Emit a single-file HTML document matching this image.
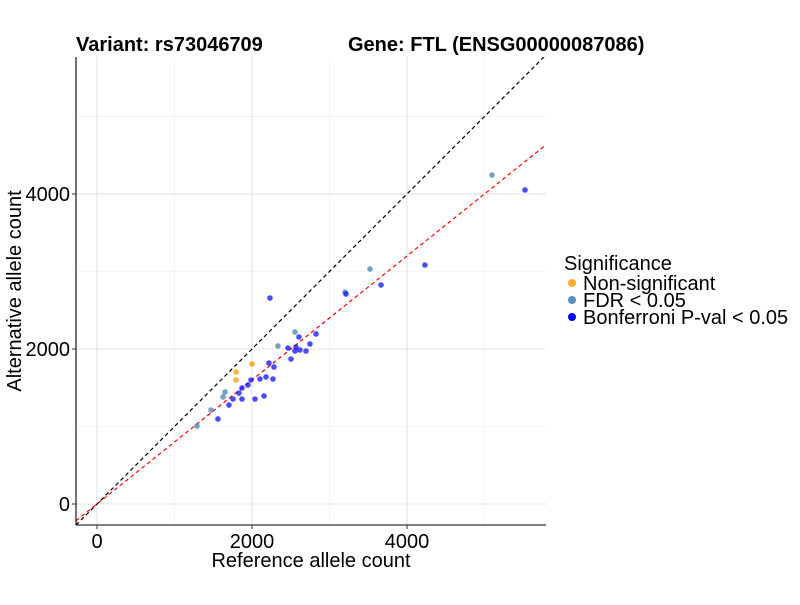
<!DOCTYPE html>
<html><head><meta charset="utf-8"><style>
body{margin:0;background:#fff}
svg text{font-family:"Liberation Sans",sans-serif}
</style></head><body>
<svg id="c" width="800" height="600">
<g id="grid"></g>
<g id="lines"></g>
<g id="pts"></g>
<g id="axes"></g>
<text x="76" y="51" font-size="20" font-weight="bold">Variant: rs73046709</text>
<text x="348" y="51" font-size="20" font-weight="bold">Gene: FTL (ENSG00000087086)</text>
<text x="311" y="567" font-size="20" text-anchor="middle">Reference allele count</text>
<text transform="translate(21,291) rotate(-90)" font-size="20" text-anchor="middle">Alternative allele count</text>
<g>
<text x="564" y="270" font-size="20">Significance</text>
<circle cx="572" cy="283" r="4" fill="#FF9900" opacity="0.8"/>
<text x="583" y="290" font-size="20">Non-significant</text>
<circle cx="572" cy="300" r="4" fill="#4682B4" opacity="0.9"/>
<text x="583" y="307" font-size="20">FDR &lt; 0.05</text>
<circle cx="572" cy="317" r="4" fill="#0000FF"/>
<text x="583" y="324" font-size="20">Bonferroni P-val &lt; 0.05</text>
</g>
</svg>
<script>
const refCounts=[2232,2555,2606,2826,2335,2465,2568,2555,2619,2697,2748,2503,2219,2284,2000,1794,1794,1987,2103,2181,2271,1948,1871,1652,1626,1832,1755,1871,2039,2155,1703,1471,1561,1290,3523,3665,3200,3213,4232,5097,5523];
const altCounts=[2658,2219,2155,2194,2039,2013,2026,1974,1987,1974,2065,1871,1819,1768,1806,1703,1600,1600,1613,1639,1613,1535,1497,1445,1381,1432,1355,1355,1355,1394,1277,1213,1097,1006,3032,2826,2735,2710,3084,4245,4052];
const groups=["b","s","b","b","s","b","b","b","b","b","b","b","b","b","o","o","o","b","b","b","b","b","b","s","s","b","b","b","b","b","b","s","b","s","s","b","s","b","b","s","b"];
const ticks=[0,2000,4000];
const minorTicks=[1000,3000,5000];
const fitSlope=0.8;
const X0=76,X1=546,Y0=57,Y1=525,xmin=-271,xmax=5794,ymin=-271,ymax=5768;
const sx=v=>X0+(v-xmin)/(xmax-xmin)*(X1-X0);
const sy=v=>Y1-(v-ymin)/(ymax-ymin)*(Y1-Y0);
const NS="http://www.w3.org/2000/svg";
function mk(p,t,a){const e=document.createElementNS(NS,t);for(const k in a)e.setAttribute(k,a[k]);p.appendChild(e);return e;}
const grid=document.getElementById('grid');
minorTicks.forEach(t=>{
 let l=mk(grid,'line',{x1:sx(t),x2:sx(t),y1:Y0,y2:Y1,stroke:'#ebebeb','stroke-width':0.6});
 
 
 l=mk(grid,'line',{x1:X0,x2:X1,y1:sy(t),y2:sy(t),stroke:'#ebebeb','stroke-width':0.6});
 
 
});
ticks.forEach(t=>{
 let l=mk(grid,'line',{x1:sx(t),x2:sx(t),y1:Y0,y2:Y1,stroke:'#e3e3e3','stroke-width':1.1});
 
 
 l=mk(grid,'line',{x1:X0,x2:X1,y1:sy(t),y2:sy(t),stroke:'#e3e3e3','stroke-width':1.1});
 
 
});
const lines=document.getElementById('lines');
const svgc=document.getElementById('c');
const clip=mk(svgc,'clipPath',{id:'cp'});mk(clip,'rect',{x:X0,y:Y0,width:X1-X0,height:Y1-Y0});
lines.setAttribute('clip-path','url(#cp)');
let d=mk(lines,'line',{x1:sx(xmin),y1:sy(xmin),x2:sx(xmax),y2:sy(xmax),stroke:'#000','stroke-width':1.2,'stroke-dasharray':'4,3'});


d=mk(lines,'line',{x1:sx(xmin),y1:sy(xmin*fitSlope),x2:sx(xmax),y2:sy(xmax*fitSlope),stroke:'#FF0000','stroke-width':1.2,'stroke-dasharray':'4,3'});


const col={o:'#FF9900',s:'#4682B4',b:'#0000FF'};
const pts=document.getElementById('pts');
refCounts.forEach((v,i)=>{
 const c=mk(pts,'circle',{cx:sx(v),cy:sy(altCounts[i]),r:2.8,fill:col[groups[i]],opacity:groups[i]=='b'?0.7:0.75});
 
 
});
const ax=document.getElementById('axes');
mk(ax,'line',{x1:X0,x2:X0,y1:Y0,y2:Y1,stroke:'#000','stroke-width':1.1});
mk(ax,'line',{x1:X0,x2:X1,y1:Y1,y2:Y1,stroke:'#000','stroke-width':1.1});
ticks.forEach(t=>{
 mk(ax,'line',{x1:sx(t),x2:sx(t),y1:Y1,y2:Y1+4,stroke:'#333'});
 let tx=mk(ax,'text',{x:sx(t),y:Y1+23,'font-size':20,'text-anchor':'middle',fill:'#000'});tx.textContent=t;
 
 
 mk(ax,'line',{x1:X0-4,x2:X0,y1:sy(t),y2:sy(t),stroke:'#333'});
 tx=mk(ax,'text',{x:X0-6,y:sy(t)+7,'font-size':20,'text-anchor':'end',fill:'#000'});tx.textContent=t;
 
 
});
</script>
</body></html>
